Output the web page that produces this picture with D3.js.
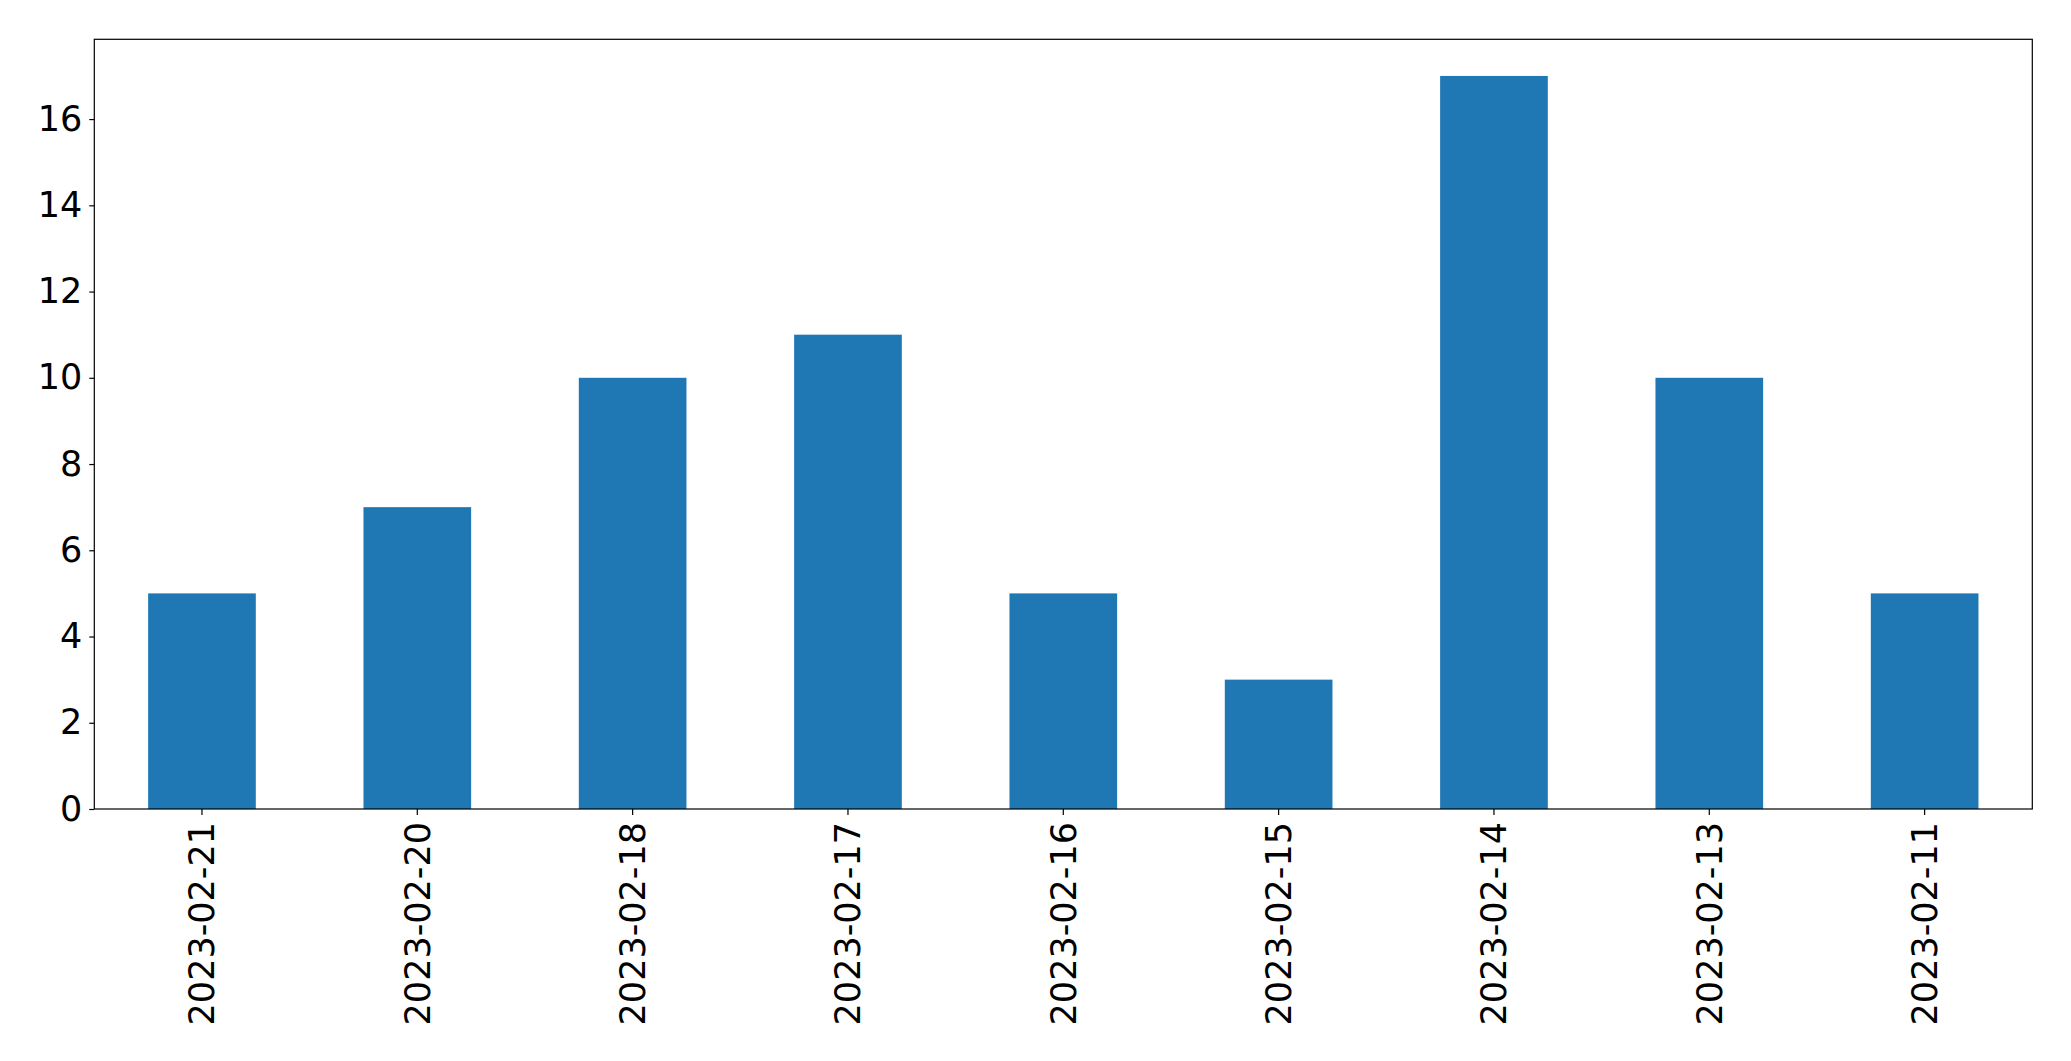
<!DOCTYPE html>
<html>
<head>
<meta charset="utf-8">
<script src="https://cdn.jsdelivr.net/npm/d3@7"></script>
<style>
html, body { margin: 0; padding: 0; background: #fff; }
svg { display: block; }
</style>
</head>
<body>
<svg id="chart" width="2071" height="1061"></svg>
<script>
const categories = ["2023-02-21", "2023-02-20", "2023-02-18", "2023-02-17", "2023-02-16", "2023-02-15", "2023-02-14", "2023-02-13", "2023-02-11"];
const values = [5, 7, 10, 11, 5, 3, 17, 10, 5];
const yTicks = [0, 2, 4, 6, 8, 10, 12, 14, 16];

const svg = d3.select("#chart");
const plotLeft = 94.3, plotRight = 2032.3, plotTop = 39.3, plotBottom = 809;
const fontFamily = "'DejaVu Sans', sans-serif";
const fontSize = 35;

const x = d3.scaleBand().domain(categories).range([plotLeft, plotRight]).paddingInner(0.5).paddingOuter(0.25);
const y = d3.scaleLinear().domain([0, d3.max(values) * 1.05]).range([plotBottom, plotTop]);

svg.append("g").selectAll("rect").data(values).enter().append("rect")
  .attr("x", (d, i) => x(categories[i]))
  .attr("width", x.bandwidth())
  .attr("y", d => y(d))
  .attr("height", d => y(0) - y(d))
  .attr("fill", "#1f77b4");

// y axis
const yAxis = svg.append("g").attr("transform", `translate(${plotLeft},0)`)
  .call(d3.axisLeft(y).tickValues(yTicks).tickSize(5).tickPadding(7).tickFormat(d3.format("d")));
yAxis.select(".domain").remove();
yAxis.selectAll(".tick line").attr("stroke", "#000").attr("stroke-width", 1.2);
yAxis.selectAll(".tick text").attr("font-family", fontFamily).attr("font-size", fontSize).attr("fill", "#000");

// x axis
const xAxis = svg.append("g").attr("transform", `translate(0,${plotBottom})`)
  .call(d3.axisBottom(x).tickSize(6).tickPadding(10));
xAxis.select(".domain").remove();
xAxis.selectAll(".tick line").attr("stroke", "#000").attr("stroke-width", 1.2);
xAxis.selectAll(".tick text")
  .attr("font-family", fontFamily).attr("font-size", fontSize).attr("fill", "#000")
  .attr("transform", "rotate(-90)")
  .attr("text-anchor", "end")
  .attr("x", -13).attr("y", 0).attr("dy", "0.35em");

// frame
svg.append("rect")
  .attr("x", plotLeft).attr("y", plotTop)
  .attr("width", plotRight - plotLeft).attr("height", plotBottom - plotTop)
  .attr("fill", "none").attr("stroke", "#000").attr("stroke-width", 1.2);
</script>
</body>
</html>
